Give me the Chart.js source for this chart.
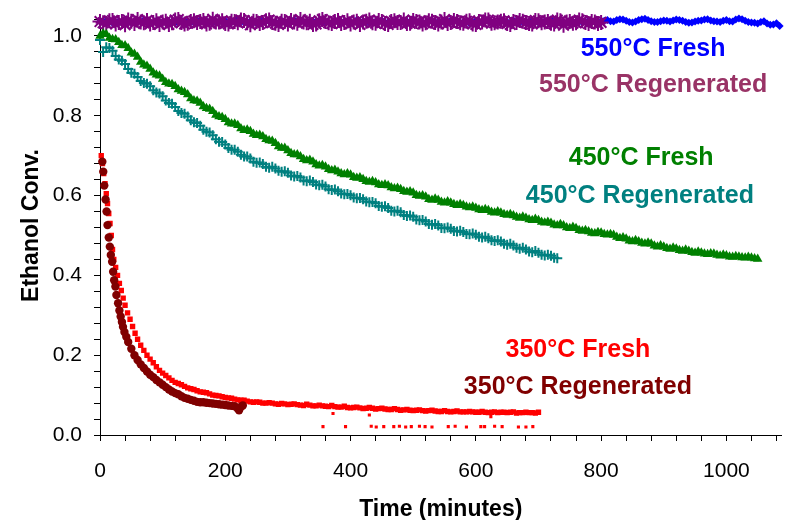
<!doctype html>
<html lang="en">
<head>
<meta charset="UTF-8">
<title>Ethanol conversion vs time</title>
<script src="https://cdn.jsdelivr.net/npm/chart.js"></script>
<style>
  html, body { margin: 0; padding: 0; background: #fff; }
  #wrap { width: 791px; height: 520px; }
</style>
</head>
<body>
<div id="wrap"><canvas id="convChart" width="791" height="520"></canvas></div>
<script>
// sampling grids (minutes) shared by the long runs
const everyTen = [
  0, 10, 20, 30, 40, 50, 60, 70, 80, 90,
  100, 110, 120, 130, 140, 150, 160, 170, 180, 190,
  200, 210, 220, 230, 240, 250, 260, 270, 280, 290,
  300, 310, 320, 330, 340, 350, 360, 370, 380, 390,
  400, 410, 420, 430, 440, 450, 460, 470, 480, 490,
  500, 510, 520, 530, 540, 550, 560, 570, 580, 590,
  600, 610, 620, 630, 640, 650, 660, 670, 680, 690,
  700, 710, 720, 730, 740, 750, 760, 770, 780, 790,
  800, 810, 820, 830, 840, 850, 860, 870, 880, 890,
  900, 910, 920, 930, 940, 950, 960, 970, 980, 990,
  1000, 1010, 1020, 1030, 1040, 1050, 1060, 1070, 1080
];
const inBetween = [
  5, 15, 25, 35, 45, 55, 65, 75, 85, 95,
  105, 115, 125, 135, 145, 155, 165, 175, 185, 195,
  205, 215, 225, 235, 245, 255, 265, 275, 285, 295,
  305, 315, 325, 335, 345, 355, 365, 375, 385, 395,
  405, 415, 425, 435, 445, 455, 465, 475, 485, 495,
  505, 515, 525, 535, 545, 555, 565, 575, 585, 595,
  605, 615, 625, 635, 645, 655, 665, 675, 685, 695,
  705, 715, 725, 735, 745, 755, 765, 775, 785, 795,
  805, 815, 825, 835, 845, 855, 865, 875, 885, 895,
  905, 915, 925, 935, 945, 955, 965, 975, 985, 995,
  1005, 1015, 1025, 1035, 1045, 1055, 1065, 1075, 1085
];

// 550°C fresh: 0-1080 on everyTen, 805-1085 in between
const fresh550 = [
  1.036, 1.039, 1.033, 1.037, 1.041, 1.034, 1.036, 1.040, 1.032, 1.038,
  1.035, 1.037, 1.033, 1.039, 1.036, 1.034, 1.040, 1.037, 1.033, 1.036,
  1.038, 1.035, 1.041, 1.034, 1.037, 1.032, 1.039, 1.036, 1.035, 1.038,
  1.034, 1.040, 1.036, 1.033, 1.037, 1.039, 1.035, 1.032, 1.038, 1.036,
  1.034, 1.040, 1.037, 1.033, 1.036, 1.039, 1.035, 1.038, 1.034, 1.037,
  1.041, 1.035, 1.033, 1.038, 1.036, 1.034, 1.039, 1.037, 1.035, 1.032,
  1.038, 1.036, 1.040, 1.034, 1.037, 1.035, 1.039, 1.033, 1.036, 1.038,
  1.034, 1.037, 1.041, 1.035, 1.033, 1.038, 1.036, 1.034, 1.039, 1.036,
  1.037, 1.040, 1.036, 1.042, 1.038, 1.034, 1.040, 1.043, 1.037, 1.035,
  1.039, 1.036, 1.041, 1.038, 1.033, 1.036, 1.039, 1.042, 1.037, 1.035,
  1.040, 1.036, 1.044, 1.038, 1.034, 1.031, 1.037, 1.028, 1.032
];
const fresh550Late = [
  1.038, 1.037, 1.040, 1.041, 1.035, 1.036, 1.042, 1.040, 1.035, 1.037,
  1.038, 1.039, 1.040, 1.035, 1.034, 1.038, 1.041, 1.039, 1.036, 1.038,
  1.037, 1.041, 1.042, 1.035, 1.033, 1.035, 1.031, 1.029, 1.025
];

// 550°C regenerated: 0-800 on everyTen, 5-795 in between
const regen550 = [
  1.036, 1.031, 1.039, 1.034, 1.028, 1.037, 1.041, 1.033, 1.030, 1.038,
  1.035, 1.029, 1.040, 1.034, 1.032, 1.038, 1.036, 1.030, 1.042, 1.035,
  1.031, 1.037, 1.033, 1.039, 1.028, 1.036, 1.034, 1.040, 1.032, 1.037,
  1.030, 1.035, 1.041, 1.033, 1.029, 1.038, 1.036, 1.031, 1.039, 1.034,
  1.030, 1.037, 1.035, 1.040, 1.032, 1.036, 1.029, 1.038, 1.034, 1.031,
  1.039, 1.035, 1.033, 1.037, 1.030, 1.041, 1.034, 1.036, 1.032, 1.038,
  1.029, 1.035, 1.040, 1.033, 1.037, 1.031, 1.036, 1.039, 1.034, 1.030,
  1.038, 1.035, 1.032, 1.040, 1.027, 1.036, 1.033, 1.038, 1.031, 1.035,
  1.034
];
const regen550Mid = [
  1.033, 1.038, 1.030, 1.036, 1.040, 1.031, 1.035, 1.039, 1.034, 1.029,
  1.037, 1.033, 1.041, 1.030, 1.036, 1.034, 1.039, 1.032, 1.035, 1.038,
  1.030, 1.036, 1.040, 1.033, 1.037, 1.031, 1.038, 1.034, 1.029, 1.036,
  1.039, 1.032, 1.035, 1.037, 1.030, 1.041, 1.033, 1.036, 1.031, 1.038,
  1.035, 1.029, 1.037, 1.033, 1.039, 1.031, 1.036, 1.034, 1.040, 1.032,
  1.036, 1.030, 1.038, 1.034, 1.035, 1.031, 1.039, 1.033, 1.037, 1.030,
  1.036, 1.040, 1.032, 1.035, 1.038, 1.029, 1.034, 1.037, 1.031, 1.039,
  1.033, 1.036, 1.030, 1.038, 1.035, 1.032, 1.040, 1.034, 1.036, 1.031
];

// 450°C fresh: 0-1050 on everyTen, 5-1045 in between
const fresh450 = [
  1.000, 1.004, 0.992, 0.984, 0.976, 0.958, 0.947, 0.928, 0.917, 0.903,
  0.892, 0.880, 0.874, 0.862, 0.853, 0.838, 0.832, 0.819, 0.811, 0.798,
  0.791, 0.780, 0.776, 0.764, 0.761, 0.751, 0.748, 0.738, 0.731, 0.719,
  0.713, 0.703, 0.698, 0.688, 0.685, 0.675, 0.672, 0.663, 0.660, 0.653,
  0.652, 0.644, 0.641, 0.634, 0.633, 0.626, 0.625, 0.618, 0.616, 0.609,
  0.607, 0.599, 0.597, 0.589, 0.589, 0.582, 0.582, 0.576, 0.576, 0.570,
  0.569, 0.563, 0.563, 0.557, 0.557, 0.551, 0.550, 0.544, 0.544, 0.538,
  0.538, 0.532, 0.531, 0.525, 0.525, 0.518, 0.518, 0.511, 0.510, 0.505,
  0.507, 0.502, 0.501, 0.493, 0.492, 0.485, 0.485, 0.479, 0.479, 0.472,
  0.472, 0.466, 0.467, 0.461, 0.461, 0.456, 0.457, 0.453, 0.454, 0.449,
  0.450, 0.446, 0.447, 0.444, 0.444, 0.441
];
const fresh450Mid = [
  1.006, 0.995, 0.991, 0.977, 0.969, 0.955, 0.935, 0.925, 0.908, 0.900,
  0.884, 0.879, 0.866, 0.859, 0.843, 0.837, 0.823, 0.817, 0.802, 0.796,
  0.783, 0.780, 0.768, 0.765, 0.754, 0.752, 0.741, 0.737, 0.723, 0.719,
  0.706, 0.703, 0.691, 0.689, 0.678, 0.676, 0.666, 0.664, 0.655, 0.655,
  0.646, 0.645, 0.636, 0.636, 0.628, 0.628, 0.620, 0.619, 0.611, 0.610,
  0.601, 0.600, 0.591, 0.592, 0.584, 0.585, 0.578, 0.578, 0.572, 0.572,
  0.565, 0.566, 0.559, 0.560, 0.553, 0.553, 0.546, 0.547, 0.540, 0.541,
  0.534, 0.534, 0.527, 0.528, 0.520, 0.521, 0.513, 0.513, 0.506, 0.508,
  0.503, 0.503, 0.496, 0.495, 0.487, 0.488, 0.481, 0.482, 0.474, 0.475,
  0.468, 0.469, 0.463, 0.464, 0.458, 0.459, 0.454, 0.455, 0.451, 0.452,
  0.447, 0.448, 0.445, 0.446, 0.442
];

// 450°C regenerated: 0-730 on everyTen, 5-725 in between
const regen450 = [
  0.990, 0.972, 0.963, 0.941, 0.930, 0.908, 0.897, 0.882, 0.874, 0.858,
  0.849, 0.832, 0.822, 0.807, 0.798, 0.784, 0.775, 0.760, 0.751, 0.735,
  0.728, 0.715, 0.710, 0.698, 0.693, 0.682, 0.679, 0.670, 0.668, 0.660,
  0.657, 0.648, 0.645, 0.636, 0.634, 0.626, 0.623, 0.614, 0.611, 0.603,
  0.601, 0.593, 0.591, 0.583, 0.581, 0.572, 0.569, 0.560, 0.558, 0.549,
  0.547, 0.538, 0.535, 0.527, 0.525, 0.518, 0.517, 0.510, 0.509, 0.503,
  0.502, 0.495, 0.493, 0.486, 0.485, 0.477, 0.475, 0.467, 0.465, 0.458,
  0.457, 0.450, 0.449, 0.443
];
const regen450Mid = [
  0.960, 0.970, 0.950, 0.938, 0.917, 0.905, 0.887, 0.880, 0.864, 0.856,
  0.838, 0.830, 0.812, 0.805, 0.789, 0.782, 0.765, 0.758, 0.741, 0.734,
  0.719, 0.715, 0.702, 0.698, 0.685, 0.683, 0.672, 0.672, 0.662, 0.661,
  0.650, 0.649, 0.638, 0.638, 0.628, 0.627, 0.616, 0.615, 0.605, 0.604,
  0.595, 0.594, 0.585, 0.584, 0.574, 0.573, 0.562, 0.562, 0.551, 0.550,
  0.540, 0.539, 0.529, 0.529, 0.519, 0.520, 0.511, 0.512, 0.504, 0.505,
  0.497, 0.497, 0.488, 0.488, 0.479, 0.479, 0.469, 0.469, 0.460, 0.461,
  0.452, 0.452, 0.444
];

// 350°C fresh
const fresh350Minutes = [
  2, 4, 6, 8, 10, 12, 14, 16, 18, 20,
  22, 25, 28, 31, 34, 37, 40, 44, 48, 52,
  56, 60, 65, 70, 75, 80, 85, 90, 95, 100,
  105, 110, 115, 120, 125, 130, 135, 140, 145, 150,
  155, 160, 165, 170, 175, 180, 185, 190, 195, 200,
  205, 210, 215, 220, 225, 230, 235, 240, 245, 250,
  255, 260, 265, 270, 275, 280, 285, 290, 295, 300,
  305, 310, 315, 320, 325, 330, 335, 340, 345, 350,
  355, 360, 365, 370, 375, 380, 385, 390, 395, 400,
  405, 410, 415, 420, 425, 430, 435, 440, 445, 450,
  455, 460, 465, 470, 475, 480, 485, 490, 495, 500,
  505, 510, 515, 520, 525, 530, 535, 540, 545, 550,
  555, 560, 565, 570, 575, 580, 585, 590, 595, 600,
  605, 610, 615, 620, 625, 630, 635, 640, 645, 650,
  655, 660, 665, 670, 675, 680, 685, 690, 695, 700
];
const fresh350 = [
  0.700, 0.680, 0.655, 0.630, 0.605, 0.580, 0.555, 0.530, 0.500, 0.465,
  0.440, 0.420, 0.400, 0.380, 0.362, 0.343, 0.325, 0.306, 0.290, 0.272,
  0.255, 0.240, 0.225, 0.212, 0.200, 0.190, 0.181, 0.171, 0.162, 0.155,
  0.149, 0.143, 0.137, 0.132, 0.129, 0.126, 0.122, 0.118, 0.116, 0.114,
  0.111, 0.108, 0.107, 0.106, 0.103, 0.100, 0.099, 0.098, 0.096, 0.094,
  0.093, 0.092, 0.090, 0.088, 0.087, 0.087, 0.085, 0.083, 0.082, 0.083,
  0.082, 0.080, 0.080, 0.081, 0.080, 0.078, 0.077, 0.079, 0.078, 0.076,
  0.077, 0.078, 0.076, 0.075, 0.074, 0.077, 0.075, 0.073, 0.073, 0.075,
  0.073, 0.072, 0.071, 0.074, 0.071, 0.070, 0.070, 0.072, 0.069, 0.068,
  0.069, 0.070, 0.068, 0.066, 0.067, 0.069, 0.067, 0.065, 0.066, 0.067,
  0.065, 0.064, 0.064, 0.066, 0.064, 0.062, 0.063, 0.064, 0.062, 0.061,
  0.062, 0.063, 0.061, 0.060, 0.061, 0.062, 0.060, 0.059, 0.059, 0.061,
  0.059, 0.058, 0.059, 0.060, 0.058, 0.058, 0.058, 0.059, 0.058, 0.057,
  0.057, 0.059, 0.057, 0.056, 0.057, 0.058, 0.056, 0.057, 0.057, 0.056,
  0.057, 0.058, 0.055, 0.056, 0.056, 0.057, 0.056, 0.056, 0.055, 0.057
];
// low readings logged during the 350°C fresh run
const fresh350LowMinutes = [
  356, 372, 392, 430, 433, 441, 453, 469, 478, 488,
  497, 510, 519, 530, 556, 567, 585, 608, 614, 624,
  630, 642, 668, 680, 691
];
const fresh350Low = [
  0.021, 0.054, 0.021, 0.050, 0.022, 0.020, 0.021, 0.021, 0.022, 0.020,
  0.021, 0.022, 0.021, 0.020, 0.021, 0.022, 0.020, 0.021, 0.021, 0.046,
  0.022, 0.021, 0.020, 0.020, 0.021
];

// 350°C regenerated
const regen350Minutes = [
  3.7, 5.2, 6.8, 8.9, 10.5, 12, 14, 15.7, 17.3, 19.4,
  21, 22.6, 24.6, 26.2, 28.9, 31, 33, 35, 36.7, 39,
  42, 45, 50, 55, 60, 65, 70, 75, 80, 85,
  90, 95, 100, 105, 110, 115, 120, 125, 130, 135,
  140, 145, 150, 155, 160, 165, 170, 175, 180, 185,
  190, 195, 200, 205, 210, 215, 220, 222, 225, 228
];
const regen350 = [
  0.685, 0.660, 0.625, 0.590, 0.560, 0.526, 0.495, 0.472, 0.451, 0.434,
  0.409, 0.388, 0.372, 0.351, 0.330, 0.312, 0.297, 0.283, 0.271, 0.258,
  0.246, 0.233, 0.216, 0.200, 0.188, 0.177, 0.168, 0.159, 0.151, 0.145,
  0.138, 0.132, 0.126, 0.120, 0.114, 0.109, 0.105, 0.102, 0.097, 0.093,
  0.091, 0.088, 0.086, 0.083, 0.082, 0.082, 0.081, 0.080, 0.079, 0.078,
  0.077, 0.076, 0.075, 0.074, 0.073, 0.072, 0.066, 0.062, 0.071, 0.074
];

const seriesLabels = [
  { text: '550°C Fresh',       color: '#0000ff', x: 883, y: 0.967 },
  { text: '550°C Regenerated', color: '#993366', x: 883, y: 0.877 },
  { text: '450°C Fresh',       color: '#008000', x: 864, y: 0.694 },
  { text: '450°C Regenerated', color: '#008080', x: 862, y: 0.599 },
  { text: '350°C Fresh',       color: '#ff0000', x: 763, y: 0.213 },
  { text: '350°C Regenerated', color: '#800000', x: 763, y: 0.120 }
];

const FONT = '"Liberation Sans", Arial, sans-serif';

function pairs(times, values) {
  return values.map((v, i) => ({ x: times[i], y: v }));
}

// text labels next to each run, placed in data units
const labelPlugin = {
  id: 'seriesLabels',
  afterDatasetsDraw(chart) {
    const { ctx, scales: { x, y } } = chart;
    ctx.save();
    ctx.font = 'bold 25px ' + FONT;
    ctx.textAlign = 'center';
    ctx.textBaseline = 'middle';
    seriesLabels.forEach(l => {
      ctx.fillStyle = l.color;
      ctx.fillText(l.text, x.getPixelForValue(l.x), y.getPixelForValue(l.y));
    });
    ctx.restore();
  }
};

// fixed axis boxes, no extra room for edge labels
function fixBox(s, size) {
  if (s.isHorizontal()) s.height = size; else s.width = size;
  s.paddingLeft = s.paddingRight = s.paddingTop = s.paddingBottom = 0;
}

const ctx = document.getElementById('convChart').getContext('2d');
new Chart(ctx, {
  type: 'scatter',
  data: {
    datasets: [
      { label: '350°C Regenerated', data: pairs(regen350Minutes, regen350),
        pointStyle: 'circle', pointRadius: 4.2, backgroundColor: '#800000', borderColor: '#800000', borderWidth: 0 },
      { label: '350°C Fresh', data: pairs(fresh350Minutes, fresh350),
        pointStyle: 'rect', pointRadius: 3.8, backgroundColor: '#ff0000', borderColor: '#ff0000', borderWidth: 0 },
      { label: '350°C Fresh low', data: pairs(fresh350LowMinutes, fresh350Low),
        pointStyle: 'rect', pointRadius: 2.2, backgroundColor: '#ff0000', borderColor: '#ff0000', borderWidth: 0 },
      { label: '450°C Fresh', data: pairs(everyTen, fresh450).concat(pairs(inBetween, fresh450Mid)),
        pointStyle: 'triangle', pointRadius: 5.5, backgroundColor: '#008000', borderColor: '#008000', borderWidth: 0 },
      { label: '450°C Regenerated', data: pairs(everyTen, regen450).concat(pairs(inBetween, regen450Mid)),
        pointStyle: 'cross', pointRadius: 5, backgroundColor: '#008080', borderColor: '#008080', borderWidth: 2 },
      { label: '550°C Regenerated', data: pairs(everyTen, regen550).concat(pairs(inBetween, regen550Mid)),
        pointStyle: 'star', pointRadius: 7.5, backgroundColor: '#800080', borderColor: '#800080', borderWidth: 2 },
      { label: '550°C Fresh', data: pairs(everyTen, fresh550).concat(pairs(inBetween.slice(80), fresh550Late)),
        pointStyle: 'rectRot', pointRadius: 4, backgroundColor: '#0000ff', borderColor: '#0000ff', borderWidth: 0 }
    ].map(d => Object.assign(d, { showLine: false, clip: 10 }))
  },
  options: {
    responsive: false,
    animation: false,
    layout: { padding: { top: 16, right: 0, left: 0, bottom: 0 } },
    plugins: { legend: { display: false }, tooltip: { enabled: false } },
    scales: {
      x: {
        type: 'linear', position: 'bottom', min: 0, max: 1088,
        afterFit: s => fixBox(s, 85),
        afterBuildTicks: s => {
          const t = [];
          for (let v = 0; v <= 1080; v += 40) t.push({ value: v });
          s.ticks = t;
        },
        border: { display: true, color: '#000', width: 1 },
        grid: { display: true, drawOnChartArea: false, drawTicks: true, tickLength: 6, color: '#000' },
        ticks: {
          autoSkip: false, maxRotation: 0, padding: 18, color: '#000',
          font: { family: FONT, size: 21 },
          callback: v => (v % 200 === 0 ? String(v) : '')
        },
        title: {
          display: true, text: 'Time (minutes)', color: '#000',
          font: { family: FONT, size: 23, weight: 'bold' }, padding: { top: 0, bottom: -3 }
        }
      },
      y: {
        type: 'linear', min: 0, max: 1.05,
        afterFit: s => fixBox(s, 100),
        afterBuildTicks: s => {
          const t = [];
          for (let k = 0; k <= 26; k++) t.push({ value: +(k * 0.04).toFixed(2) });
          s.ticks = t;
        },
        border: { display: true, color: '#000', width: 1 },
        grid: { display: true, drawOnChartArea: false, drawTicks: true, tickLength: 6, color: '#000' },
        ticks: {
          autoSkip: false, padding: 12, color: '#000',
          font: { family: FONT, size: 21 },
          callback: v => (Math.abs(v * 5 - Math.round(v * 5)) < 1e-6 ? v.toFixed(1) : '')
        },
        title: {
          display: true, text: 'Ethanol Conv.', color: '#000',
          font: { family: FONT, size: 23, weight: 'bold' }, padding: { top: 18, bottom: 0 }
        }
      }
    }
  },
  plugins: [labelPlugin]
});
</script>
</body>
</html>
